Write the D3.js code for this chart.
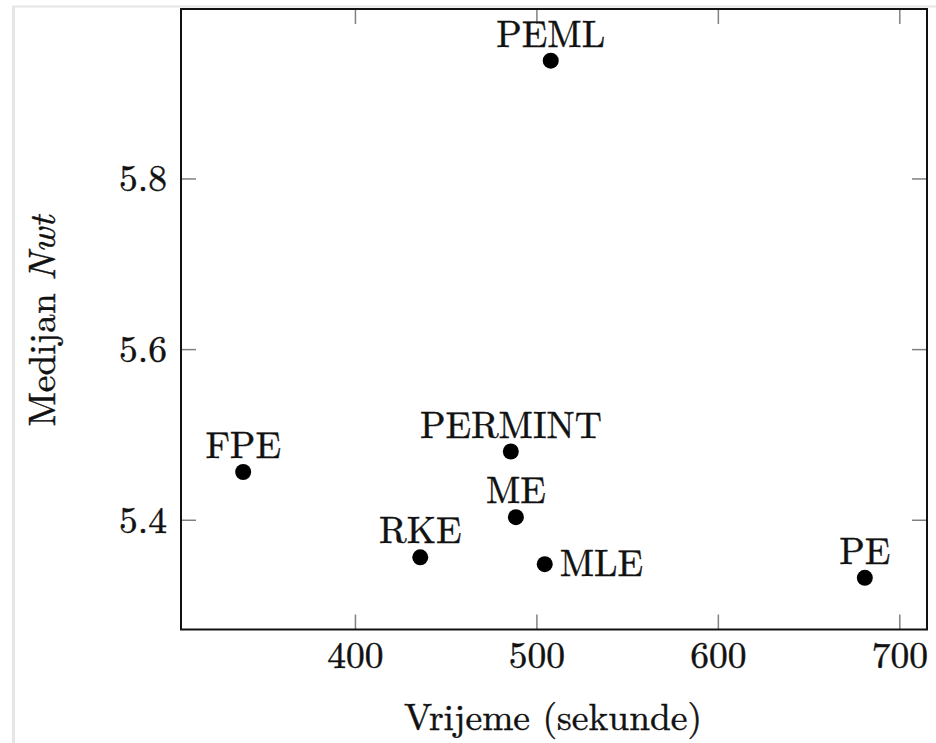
<!DOCTYPE html>
<html>
<head>
<meta charset="utf-8">
<script src="https://cdn.jsdelivr.net/npm/d3@7"></script>
<style>
  html, body { margin: 0; padding: 0; background: #fff; }
  svg { display: block; }
</style>
</head>
<body>
<svg id="chart" width="936" height="743"></svg>
<script>
// ---- data ----
const methods = ["PEML", "FPE", "PERMINT", "ME", "RKE", "MLE", "PE"];
const times   = [507.9, 338.4, 485.9, 488.7, 436.0, 504.6, 681.0];
const medians = [5.938, 5.456, 5.480, 5.403, 5.356, 5.348, 5.332];
const labelSide = ["above", "above", "above", "above", "above", "right", "above"];
const xTicks = [400, 500, 600, 700];
const yTicks = [5.4, 5.6, 5.8];
const xLabel = "Vrijeme (sekunde)";
const yLabelMain = "Medijan ";
const yLabelMath = "Nwt";

// ---- layout ----
const FONT = "'Latin Modern Roman', 'Liberation Serif', serif";
const svg = d3.select("#chart");
const pLeft = 181, pRight = 927, pTop = 9, pBottom = 629.5;
const fs = 37.5;
const ink = "#111";
const textStroke = t => t.attr("stroke", ink).attr("stroke-width", 0.45);

// light page border
svg.append("line").attr("x1", 13.5).attr("x2", 13.5).attr("y1", 6).attr("y2", 743)
  .attr("stroke", "#e6e6e6").attr("stroke-width", 3);
svg.append("line").attr("x1", 12).attr("x2", 936).attr("y1", 6.5).attr("y2", 6.5)
  .attr("stroke", "#e6e6e6").attr("stroke-width", 2);

// enlarge limits by 10% like pgfplots
const xExt = d3.extent(times), yExt = d3.extent(medians);
const xPad = 0.1 * (xExt[1] - xExt[0]), yPad = 0.1 * (yExt[1] - yExt[0]);
const x = d3.scaleLinear().domain([xExt[0] - xPad, xExt[1] + xPad]).range([pLeft, pRight]);
const y = d3.scaleLinear().domain([yExt[0] - yPad, yExt[1] + yPad]).range([pBottom, pTop]);

const tickLen = 15;
const gx = svg.append("g").attr("transform", `translate(0,${pBottom})`)
  .call(d3.axisBottom(x).tickValues(xTicks).tickSize(-tickLen).tickFormat(d3.format("d")));
const gxt = svg.append("g").attr("transform", `translate(0,${pTop})`)
  .call(d3.axisTop(x).tickValues(xTicks).tickSize(-tickLen).tickFormat(""));
const gy = svg.append("g").attr("transform", `translate(${pLeft},0)`)
  .call(d3.axisLeft(y).tickValues(yTicks).tickSize(-tickLen).tickFormat(d3.format(".1f")));
const gyr = svg.append("g").attr("transform", `translate(${pRight},0)`)
  .call(d3.axisRight(y).tickValues(yTicks).tickSize(-tickLen).tickFormat(""));

[gx, gxt, gy, gyr].forEach(g => {
  g.attr("font-family", null).attr("font-size", null);
  g.select(".domain").remove();
  g.selectAll(".tick line").attr("stroke", "#808080").attr("stroke-width", 1.5);
  g.selectAll(".tick text").style("font-family", FONT).style("font-size", fs + "px").attr("fill", ink)
    .call(textStroke);
});
gx.selectAll(".tick text").attr("y", 38.5).attr("dy", null);
gy.selectAll(".tick text").attr("x", -14).attr("dy", "0.33em");

// frame
svg.append("rect").attr("x", pLeft).attr("y", pTop)
  .attr("width", pRight - pLeft).attr("height", pBottom - pTop)
  .attr("fill", "none").attr("stroke", ink).attr("stroke-width", 2);

// points
const data = methods.map((m, i) => ({ m, t: times[i], v: medians[i], side: labelSide[i] }));
svg.append("g").selectAll("circle").data(data).join("circle")
  .attr("cx", d => x(d.t)).attr("cy", d => y(d.v)).attr("r", 8).attr("fill", "#000");

// point labels
svg.append("g").selectAll("text").data(data).join("text")
  .attr("x", d => d.side === "right" ? x(d.t) + 15 : x(d.t))
  .attr("y", d => d.side === "right" ? y(d.v) + 12 : y(d.v) - 14)
  .attr("text-anchor", d => d.side === "right" ? "start" : "middle")
  .style("font-family", FONT).style("font-size", fs + "px").attr("fill", ink)
  .call(textStroke)
  .text(d => d.m);

// axis labels
svg.append("text").attr("x", 553).attr("y", 730)
  .attr("text-anchor", "middle")
  .style("font-family", FONT).style("font-size", fs + "px").attr("fill", ink)
  .call(textStroke)
  .text(xLabel);

const yl = svg.append("text")
  .attr("transform", `translate(55,321) rotate(-90)`)
  .attr("text-anchor", "middle")
  .style("font-family", FONT).style("font-size", fs + "px").attr("fill", ink)
  .call(textStroke);
yl.append("tspan").text(yLabelMain);
yl.append("tspan").style("font-style", "italic").text(yLabelMath);
</script>
</body>
</html>
